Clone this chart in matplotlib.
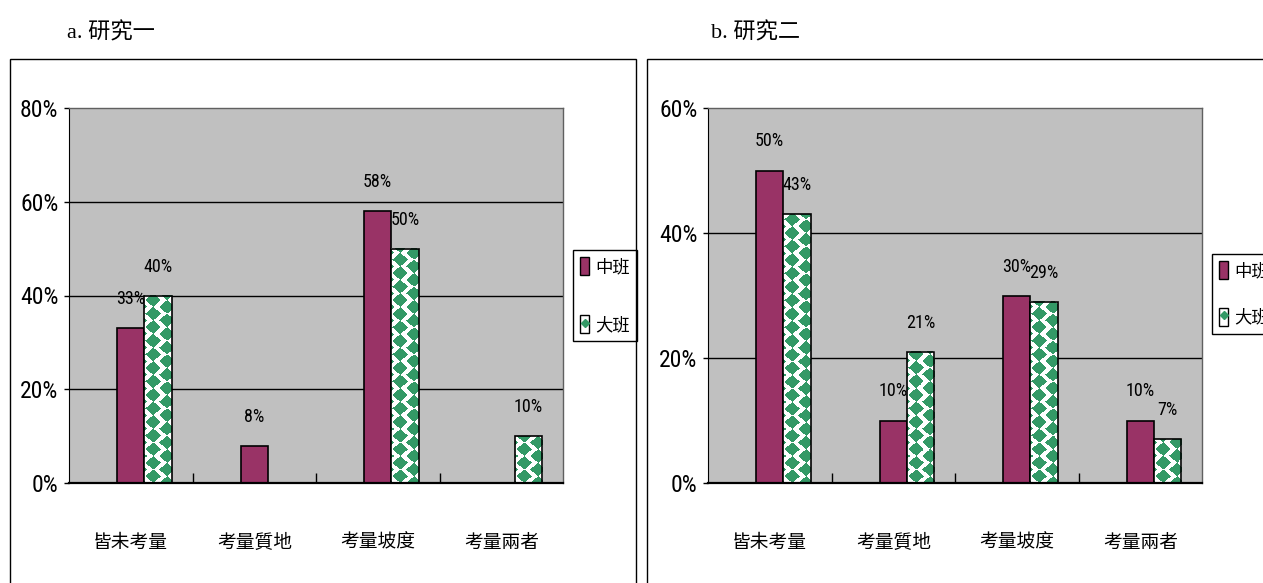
"""Grouped bar charts of the two studies, drawn side by side."""

import numpy as np
import matplotlib
matplotlib.use("Agg")
import matplotlib.pyplot as plt
from matplotlib import font_manager
from matplotlib.patches import Rectangle, Patch
from matplotlib.lines import Line2D
from matplotlib.legend_handler import HandlerTuple

categories = ["皆未考量", "考量質地", "考量坡度", "考量兩者"]
series_names = ["中班", "大班"]

study1_mid = [33, 8, 58, 0]
study1_senior = [40, 0, 50, 10]
study2_mid = [50, 10, 30, 10]
study2_senior = [43, 21, 29, 7]

study1_ticks = [0, 20, 40, 60, 80]
study2_ticks = [0, 20, 40, 60]

panel_titles = ["a. 研究一", "b. 研究二"]

PLUM = "#993366"
GREEN = "#339966"
PLOT_BG = "#C0C0C0"
CJK_FONT = ["Noto Sans CJK TC", "DejaVu Sans"]
TITLE_FONT = ["Liberation Serif", "Noto Sans CJK TC"]

W, H = 1263, 583
BAR_W = 0.221


def pick_number_font():
    """Prefer a narrow sans face for the percentages, if one is installed."""
    fonts = font_manager.fontManager.ttflist
    for wanted in ["Liberation Sans Narrow", "Arial Narrow", "Roboto Condensed",
                   "Open Sans Condensed", "Noto Sans Condensed"]:
        if any(f.name == wanted for f in fonts):
            return {"family": wanted}, True
    for fam in ["Noto Sans", "Open Sans", "Roboto", "DejaVu Sans"]:
        for f in fonts:
            if f.name == fam and f.stretch in ("condensed", "extra-condensed",
                                               "semi-condensed") and f.weight in (400, "normal", "regular"):
                return {"family": fam, "stretch": f.stretch}, True
    return {"family": "Liberation Sans"}, False


NUM_KW, NARROW = pick_number_font()
TICK_SIZE = 17 if NARROW else 14
VALUE_SIZE = 13 if NARROW else 11


def px(x, y):
    """pixel position (from top-left) -> figure fraction"""
    return x / W, 1 - y / H


def diamond_texture(w_px, h_px, scale=3):
    """White fill with staggered columns of green diamonds."""
    cols = max(int(round(w_px * scale)), 1)
    rows = max(int(round(h_px * scale)), 1)
    xs = (np.arange(cols) + 0.5) / scale
    ys = (np.arange(rows) + 0.5) / scale
    X, Y = np.meshgrid(xs, ys)
    pitch = 13.5
    img = np.ones((rows, cols, 3))
    green = np.array(matplotlib.colors.to_rgb(GREEN))
    for col0, row0 in [(9.0, 6.75), (9.0 + pitch, 0.0)]:
        dx = ((X - col0 + pitch) % (2 * pitch)) - pitch
        dy = ((Y - row0 + pitch / 2) % pitch) - pitch / 2
        mask = np.abs(dx) / 7.6 + np.abs(dy) / 6.9 <= 1
        img[mask] = green
    return img


def draw_panel(ax, mid, senior, ticks):
    x = np.arange(len(categories))
    top = ticks[-1]
    ax.set_xlim(-0.5, len(categories) - 0.5)
    ax.set_ylim(0, top)
    ax.set_autoscale_on(False)
    ax.set_facecolor(PLOT_BG)

    for t in ticks[1:-1]:
        ax.axhline(t, color="black", lw=1, zorder=1)

    ax.bar(x, mid, BAR_W, color=PLUM, edgecolor="black", lw=1.2, zorder=2)
    senior_bars = ax.bar(x + BAR_W, senior, BAR_W, color="white",
                         edgecolor="none", zorder=2)
    # patterned fill for the second series
    for bar in senior_bars:
        if bar.get_height() <= 0:
            continue
        x0, w, h = bar.get_x(), bar.get_width(), bar.get_height()
        p0 = ax.transData.transform((x0, 0))
        p1 = ax.transData.transform((x0 + w, h))
        tex = diamond_texture(p1[0] - p0[0], p1[1] - p0[1])
        ax.imshow(tex, extent=(x0, x0 + w, 0, h), origin="lower",
                  interpolation="nearest", aspect="auto", zorder=2.1)
    ax.bar(x + BAR_W, senior, BAR_W, fill=False, edgecolor="black",
           lw=1.2, zorder=2.2)
    ax.set_xlim(-0.5, len(categories) - 0.5)
    ax.set_ylim(0, top)

    # value labels
    for xs, vals in [(x, mid), (x + BAR_W, senior)]:
        for xi, v in zip(xs, vals):
            if v <= 0:
                continue
            ax.annotate(f"{v}%", xy=(xi, v), xytext=(0, 29),
                        textcoords="offset pixels", ha="center", va="center",
                        fontsize=VALUE_SIZE, zorder=3, **NUM_KW)

    ax.set_yticks(ticks)
    ax.set_yticklabels([f"{t}%" for t in ticks], fontsize=TICK_SIZE, **NUM_KW)
    ax.tick_params(axis="y", direction="out", length=3.6, width=1, pad=4)

    ax.set_xticks(x)
    ax.set_xticklabels(categories, family=CJK_FONT, fontsize=13.5)
    ax.tick_params(axis="x", which="major", length=0, pad=35)
    ax.set_xticks(x[:-1] + 0.5, minor=True)
    ax.tick_params(axis="x", which="minor", direction="in", length=7, width=1)

    ax.spines["left"].set_color("black")
    ax.spines["bottom"].set_color("black")
    ax.spines["bottom"].set_linewidth(1.6)
    for side in ["top", "right"]:
        ax.spines[side].set_color("#606060")
        ax.spines[side].set_linewidth(1)


def add_legend(ax, left, top, spacing):
    handles = [
        Patch(facecolor=PLUM, edgecolor="black", lw=1),
        (Patch(facecolor="white", edgecolor="black", lw=1),
         Line2D([], [], marker="D", color=GREEN, ls="none", markersize=4.5)),
    ]
    fx, fy = px(left, top)
    leg = ax.legend(handles, series_names, loc="upper left",
                    bbox_to_anchor=(fx, fy), bbox_transform=ax.figure.transFigure,
                    prop={"family": CJK_FONT, "size": 12.5},
                    handler_map={tuple: HandlerTuple(ndivide=1)},
                    handlelength=0.55, handleheight=1.25, handletextpad=0.35,
                    labelspacing=spacing, borderpad=0.4, borderaxespad=0,
                    fancybox=False, framealpha=1, edgecolor="black")
    leg.get_frame().set_linewidth(1)
    return leg


fig = plt.figure(figsize=(W / 100, H / 100), dpi=100)

# outer frames around each panel
fig.add_artist(Rectangle(px(10, 600), (636 - 10) / W, (600 - 58.5) / H,
                         transform=fig.transFigure, fill=False,
                         edgecolor="black", lw=1))
fig.add_artist(Rectangle(px(647, 600), 1.0, (600 - 59) / H,
                         transform=fig.transFigure, fill=False,
                         edgecolor="black", lw=1))

ax1 = fig.add_axes([69 / W, 100 / H, 494 / W, 375 / H])
ax2 = fig.add_axes([708 / W, 100 / H, 494 / W, 375 / H])

draw_panel(ax1, study1_mid, study1_senior, study1_ticks)
draw_panel(ax2, study2_mid, study2_senior, study2_ticks)

add_legend(ax1, 573, 250, 2.25)
add_legend(ax2, 1212, 254, 1.6)

fig.text(*px(67, 33), panel_titles[0], family=TITLE_FONT, fontsize=16,
         ha="left", va="center")
fig.text(*px(711, 33), panel_titles[1], family=TITLE_FONT, fontsize=16,
         ha="left", va="center")

fig.savefig("out.png", dpi=100)
